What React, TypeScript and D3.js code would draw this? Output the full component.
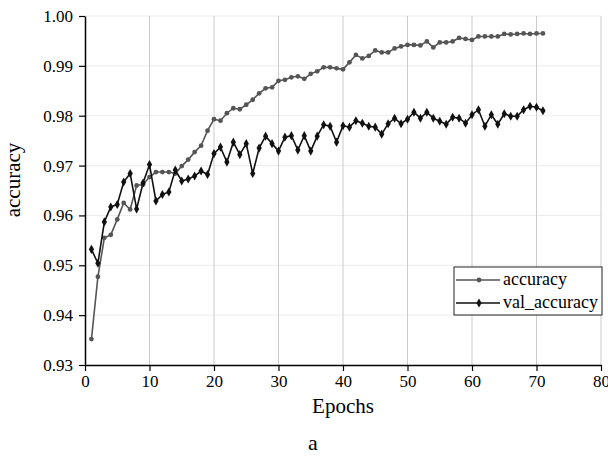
import React from "react";
import * as d3 from "d3";

const epochs = d3.range(1, 72);

const accuracy = [
  0.9352, 0.9477, 0.9555, 0.9561, 0.9592, 0.9625, 0.9612, 0.966, 0.9662, 0.9677,
  0.9687, 0.9687, 0.9687, 0.9684, 0.9699, 0.9712, 0.9727, 0.974, 0.977, 0.9793,
  0.979, 0.9805, 0.9815, 0.9813, 0.9822, 0.9832, 0.9845, 0.9855, 0.9857, 0.987,
  0.9872, 0.9877, 0.9879, 0.9874, 0.9884, 0.9889, 0.9897, 0.9897, 0.9895, 0.9893,
  0.9907, 0.9922, 0.9915, 0.992, 0.9931, 0.9927, 0.9927, 0.9935, 0.9939, 0.9942,
  0.9942, 0.9941, 0.9949, 0.9937, 0.9947, 0.9947, 0.9949, 0.9956, 0.9954, 0.9952,
  0.9959, 0.9959, 0.9959, 0.9959, 0.9964, 0.9963, 0.9964, 0.9965, 0.9964, 0.9965,
  0.9965,
];

const valAccuracy = [
  0.9532, 0.9504, 0.9587, 0.9617, 0.9622, 0.9667, 0.9684, 0.9613, 0.9665, 0.9702,
  0.9629, 0.9642, 0.9647, 0.9691, 0.9669, 0.9673, 0.9679, 0.9689, 0.9682, 0.9724,
  0.9737, 0.9707, 0.9747, 0.9722, 0.9744, 0.9684, 0.9735, 0.9759, 0.9744, 0.9729,
  0.9757, 0.976, 0.9731, 0.976, 0.9729, 0.9759, 0.9782, 0.9779, 0.9747, 0.978,
  0.9777, 0.979, 0.9785, 0.9779, 0.9777, 0.9763, 0.9784, 0.9795, 0.9784, 0.9793,
  0.9807, 0.9795, 0.9807, 0.9795, 0.9789, 0.9783, 0.9797, 0.9795, 0.9785, 0.9802,
  0.9812, 0.9779, 0.9802, 0.9783, 0.9804, 0.9799, 0.9799, 0.9812, 0.9819, 0.9817,
  0.981,
];

const xTicks = [0, 10, 20, 30, 40, 50, 60, 70, 80];
const yTicks = [0.93, 0.94, 0.95, 0.96, 0.97, 0.98, 0.99, 1.0];

export default function App() {
  const ref = React.useRef<SVGSVGElement>(null);

  React.useEffect(() => {
    const width = 608;
    const height = 456;
    const left = 85;
    const right = 601;
    const top = 16;
    const bottom = 365;
    const font = "Liberation Serif";

    const x = d3.scaleLinear().domain([0, 80]).range([left, right]);
    const y = d3.scaleLinear().domain([0.93, 1.0]).range([bottom, top]);

    const svg = d3
      .select(ref.current)
      .attr("width", width)
      .attr("height", height)
      .attr("viewBox", [0, 0, width, height])
      .style("display", "block")
      .style("background", "#fff");

    // grid
    svg.append("g")
      .selectAll()
      .data(yTicks.slice(1))
      .join("line")
      .attr("x1", left)
      .attr("x2", right)
      .attr("y1", (d) => y(d))
      .attr("y2", (d) => y(d))
      .attr("stroke", "#ececec")
      .attr("stroke-width", 1);

    svg.append("g")
      .selectAll()
      .data(xTicks.slice(1))
      .join("line")
      .attr("x1", (d) => x(d))
      .attr("x2", (d) => x(d))
      .attr("y1", top)
      .attr("y2", bottom)
      .attr("stroke", "#cbcbcb")
      .attr("stroke-width", 1);

    // axes
    const xAxis = svg.append("g").attr("transform", `translate(0,${bottom})`);
    xAxis.call(
      d3.axisBottom(x).tickValues(d3.range(5, 80, 10)).tickSize(4).tickFormat(() => "")
    );
    xAxis.call(
      d3.axisBottom(x).tickValues(xTicks).tickSize(6).tickSizeOuter(0).tickFormat(d3.format("d"))
    );

    const yAxis = svg.append("g").attr("transform", `translate(${left},0)`);
    yAxis.call(
      d3.axisLeft(y).tickValues(d3.range(0.935, 1.0, 0.01)).tickSize(4).tickFormat(() => "")
    );
    yAxis.call(
      d3.axisLeft(y).tickValues(yTicks).tickSize(6).tickSizeOuter(0).tickFormat(d3.format(".2f"))
    );

    svg.selectAll(".domain").attr("stroke", "#000").attr("stroke-width", 1.5);
    svg.selectAll(".tick line").attr("stroke", "#000").attr("stroke-width", 1.2);
    svg.selectAll(".tick text")
      .style("font-family", font)
      .style("font-size", "17px")
      .attr("fill", "#000");
    xAxis.selectAll(".tick text").attr("y", 10);
    yAxis.selectAll(".tick text").attr("x", -12);

    // lines
    const series = [
      { name: "accuracy", values: accuracy, color: "#555", shape: d3.symbolCircle, size: 18 },
      { name: "val_accuracy", values: valAccuracy, color: "#111", shape: d3.symbolDiamond, size: 24 },
    ];

    const line = d3
      .line<number>()
      .x((_, i) => x(epochs[i]))
      .y((d) => y(d));

    series.forEach((s) => {
      svg.append("path")
        .datum(s.values)
        .attr("fill", "none")
        .attr("stroke", s.color)
        .attr("stroke-width", 1.6)
        .attr("d", line);
      svg.append("g")
        .selectAll()
        .data(s.values)
        .join("path")
        .attr("transform", (d, i) => `translate(${x(epochs[i])},${y(d)})`)
        .attr("d", d3.symbol(s.shape, s.size)())
        .attr("fill", s.color);
    });

    // legend
    const lg = svg.append("g").attr("transform", "translate(454,267)");
    lg.append("rect")
      .attr("width", 148)
      .attr("height", 48)
      .attr("fill", "#fff")
      .attr("stroke", "#222")
      .attr("stroke-width", 1);
    series.forEach((s, i) => {
      const cy = 13 + i * 23;
      lg.append("line")
        .attr("x1", 2)
        .attr("x2", 46)
        .attr("y1", cy)
        .attr("y2", cy)
        .attr("stroke", s.color)
        .attr("stroke-width", 1.6);
      lg.append("path")
        .attr("transform", `translate(25,${cy})`)
        .attr("d", d3.symbol(s.shape, s.size)())
        .attr("fill", s.color);
      lg.append("text")
        .attr("x", 49)
        .attr("y", cy)
        .attr("dy", "0.3em")
        .style("font-family", font)
        .style("font-size", "18px")
        .text(s.name);
    });

    // labels
    svg.append("text")
      .attr("x", (left + right) / 2)
      .attr("y", 413)
      .attr("text-anchor", "middle")
      .style("font-family", font)
      .style("font-size", "21px")
      .text("Epochs");

    svg.append("text")
      .attr("transform", `translate(20,180) rotate(-90)`)
      .attr("text-anchor", "middle")
      .style("font-family", font)
      .style("font-size", "21px")
      .text("accuracy");

    svg.append("text")
      .attr("x", 313)
      .attr("y", 450)
      .attr("text-anchor", "middle")
      .style("font-family", font)
      .style("font-size", "22px")
      .text("a");

    return () => {
      svg.selectAll("*").remove();
    };
  }, []);

  return <svg ref={ref} style={{ position: "absolute", left: 0, top: 0 }}></svg>;
}
